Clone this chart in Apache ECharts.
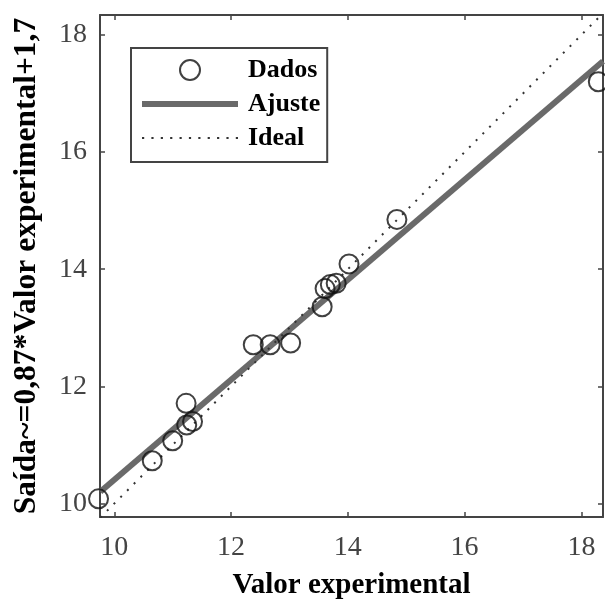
<!DOCTYPE html>
<html>
<head>
<meta charset="utf-8">
<script src="https://cdn.jsdelivr.net/npm/echarts@6/dist/echarts.min.js"></script>
<style>
  html, body { margin: 0; padding: 0; background: #fff; }
  #chart { width: 605px; height: 601px; }
</style>
</head>
<body>
<div id="chart"></div>
<script>
// Measured values (x = experimental value, y = model output)
const dataX = [9.73, 10.65, 11.00, 11.23, 11.24, 11.34, 12.38, 12.67, 13.02, 13.56, 13.61, 13.70, 13.80, 14.02, 14.84, 18.29];
const dataY = [10.08, 10.73, 11.07, 11.71, 11.34, 11.40, 12.71, 12.71, 12.74, 13.36, 13.67, 13.74, 13.76, 14.09, 14.85, 17.20];

// Fitted line end points
const fitX = [9.76, 18.37];
const fitY = [10.20, 17.55];

// Ideal line (y = x)
const idealX = [9.76, 18.34];
const idealY = [9.76, 18.34];

// Axis ranges
const xRange = [9.755, 18.37];
const yRange = [9.77, 18.34];

const legendNames = ['Dados', 'Ajuste', 'Ideal'];
const xTitle = 'Valor experimental';
const yTitle = 'Saída~=0,87*Valor experimental+1,7';

const pairs = (xs, ys) => xs.map((x, i) => [x, ys[i]]);

const serif = '"Liberation Serif", "Times New Roman", "DejaVu Serif", serif';
const frameColor = '#444';
const tickFmt = v => (Math.abs(v - Math.round(v)) < 1e-6 && Math.round(v) % 2 === 0) ? String(Math.round(v)) : '';

// Legend glyphs: a solid bar for the fit, a row of dots for the ideal line
const solidIcon = 'path://M0,0H96V6H0Z';
let dotPath = '';
for (let i = 0; i < 11; i++) dotPath += 'M' + (i * 9.4) + ',0h2.2v2.2h-2.2Z';
const dottedIcon = 'path://' + dotPath;

function valueAxis(range, extra) {
  return Object.assign({
    type: 'value',
    min: range[0],
    max: range[1],
    minInterval: 2,
    maxInterval: 2,
    splitLine: { show: false },
    axisLine: { show: true, onZero: false, lineStyle: { color: frameColor, width: 2 } },
    axisTick: { show: true, inside: true, length: 5, lineStyle: { color: frameColor, width: 1.5 } },
    axisLabel: { show: false }
  }, extra);
}

const chart = echarts.init(document.getElementById('chart'), null, { renderer: 'canvas' });

chart.setOption({
  animation: false,
  backgroundColor: '#fff',
  grid: { left: 100, right: 2, top: 15, bottom: 84, containLabel: false, outerBoundsMode: 'none' },
  xAxis: [
    valueAxis(xRange, {
      position: 'bottom',
      name: xTitle,
      nameLocation: 'middle',
      nameGap: 54,
      nameTextStyle: { fontFamily: serif, fontWeight: 'bold', fontSize: 29, color: '#000' },
      axisLabel: { show: true, formatter: tickFmt, margin: 17, fontFamily: serif, fontSize: 28, color: '#444' }
    }),
    valueAxis(xRange, { position: 'top' })
  ],
  yAxis: [
    valueAxis(yRange, {
      position: 'left',
      name: yTitle,
      nameLocation: 'middle',
      nameGap: 57,
      nameTextStyle: { fontFamily: serif, fontWeight: 'bold', fontSize: 31.5, color: '#000' },
      axisLabel: { show: true, formatter: tickFmt, margin: 13, fontFamily: serif, fontSize: 28, color: '#444' }
    }),
    valueAxis(yRange, { position: 'right' })
  ],
  legend: {
    orient: 'vertical',
    left: 131,
    top: 48,
    padding: [9, 7, 11, 11],
    itemGap: 8,
    itemWidth: 96,
    itemHeight: 20,
    borderColor: frameColor,
    borderWidth: 2,
    backgroundColor: '#fff',
    data: [
      { name: legendNames[0] },
      { name: legendNames[1], icon: solidIcon },
      { name: legendNames[2], icon: dottedIcon }
    ],
    textStyle: { fontFamily: serif, fontWeight: 'bold', fontSize: 26, color: '#000', padding: [0, 0, 0, 5] }
  },
  series: [
    {
      name: legendNames[1],
      type: 'line',
      data: pairs(fitX, fitY),
      showSymbol: false,
      symbol: 'none',
      lineStyle: { color: '#6a6a6a', width: 6 },
      itemStyle: { color: '#6a6a6a' },
      z: 2
    },
    {
      name: legendNames[2],
      type: 'line',
      data: pairs(idealX, idealY),
      showSymbol: false,
      symbol: 'none',
      lineStyle: { color: '#333', width: 2, type: [2, 7.5] },
      itemStyle: { color: '#333' },
      z: 3
    },
    {
      name: legendNames[0],
      type: 'scatter',
      data: pairs(dataX, dataY),
      symbol: 'circle',
      symbolSize: 19,
      clip: false,
      itemStyle: { color: 'rgba(0,0,0,0)', borderColor: '#111', borderWidth: 2 },
      z: 4
    }
  ]
});
</script>
</body>
</html>
